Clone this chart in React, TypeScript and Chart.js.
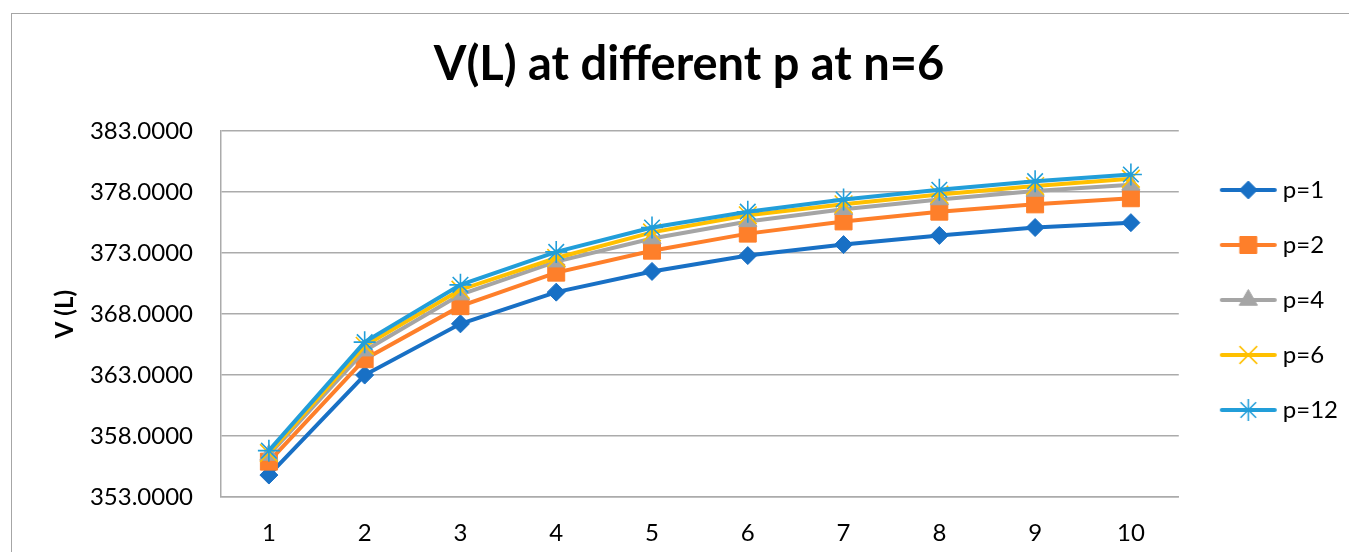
import React, { useEffect, useRef } from 'react';
import { Chart, registerables } from 'chart.js';
import { drawPoint } from 'chart.js/helpers';

Chart.register(...registerables);

// ---- data ----
const categories = ['1', '2', '3', '4', '5', '6', '7', '8', '9', '10'];
const seriesLabels = ['p=1', 'p=2', 'p=4', 'p=6', 'p=12'];
const p1 = [354.8, 363.0, 367.2, 369.8, 371.5, 372.8, 373.7, 374.45, 375.1, 375.5];
const p2 = [355.9, 364.3, 368.65, 371.4, 373.2, 374.6, 375.6, 376.4, 377.0, 377.5];
const p4 = [356.45, 365.0, 369.6, 372.3, 374.2, 375.6, 376.6, 377.4, 378.1, 378.6];
const p6 = [356.6, 365.4, 370.0, 372.6, 374.7, 376.1, 377.0, 377.8, 378.5, 379.1];
const p12 = [356.8, 365.7, 370.4, 373.1, 375.1, 376.4, 377.4, 378.2, 378.9, 379.45];
const yTicks = [353, 358, 363, 368, 373, 378, 383];
const titleText = 'V(L) at different p at n=6';
const yTitle = 'V (L)';

// ---- styles ----
const colors = ['#1870c5', '#fe7f2a', '#a5a5a5', '#ffc000', '#229ed9'];
const markers: any[] = [
  { style: 'rectRot', radius: 9, bw: 1 },
  { style: 'rect', radius: 12, bw: 1 },
  { style: 'triangle', radius: 10.5, bw: 1 },
  { style: 'crossRot', radius: 12.5, bw: 1.6 },
  { style: 'star', radius: 11, bw: 1.6 },
];
const GRID = '#ababab';
const FONT = 'Lato';

function legendImage(color: string, m: any) {
  const c = document.createElement('canvas');
  c.width = 81;
  c.height = 28;
  const ctx = c.getContext('2d')!;
  ctx.strokeStyle = color;
  ctx.lineWidth = 4;
  ctx.lineCap = 'round';
  ctx.beginPath();
  ctx.moveTo(22, 14);
  ctx.lineTo(75, 14);
  ctx.stroke();
  ctx.fillStyle = color;
  ctx.strokeStyle = color;
  ctx.lineWidth = m.bw;
  ctx.lineCap = 'butt';
  drawPoint(ctx, { pointStyle: m.style, radius: m.radius, rotation: 0, borderWidth: m.bw } as any, 48.5, 14);
  return c;
}

export default function App() {
  const ref = useRef<HTMLCanvasElement>(null);

  useEffect(() => {
    const canvas = ref.current!;
    const mctx = document.createElement('canvas').getContext('2d')!;
    mctx.font = `24px ${FONT}`;
    const tw = Math.max(...seriesLabels.map((t) => mctx.measureText(t).width));
    const W = Math.round(1281 + tw);
    const H = 538;
    const L = 1354 - W;
    canvas.width = W;
    canvas.height = H;
    canvas.style.width = W + 'px';
    canvas.style.height = H + 'px';

    const seriesData = [p1, p2, p4, p6, p12];
    const images = colors.map((c, i) => legendImage(c, markers[i]));

    const chart = new Chart(canvas, {
      type: 'line',
      data: {
        labels: categories,
        datasets: seriesData.map((d, i) => ({
          label: seriesLabels[i],
          data: d,
          borderColor: colors[i],
          backgroundColor: colors[i],
          borderWidth: 4,
          pointStyle: markers[i].style,
          pointRadius: markers[i].radius,
          pointHoverRadius: markers[i].radius,
          pointBackgroundColor: colors[i],
          pointBorderColor: colors[i],
          pointBorderWidth: markers[i].bw,
          tension: 0,
          fill: false,
          clip: false as any,
          order: seriesData.length - 1 - i,
        })),
      },
      options: {
        animation: false,
        responsive: false,
        layout: { padding: { left: L, right: 0, top: 0, bottom: 0 } },
        plugins: {
          title: {
            display: true,
            text: titleText,
            color: '#000',
            font: { family: FONT, size: 47, weight: 'bold', lineHeight: 1.2 },
            padding: { top: 23, bottom: 37.8 },
          },
          legend: {
            position: 'right',
            align: 'center',
            title: { display: true, text: '', font: { size: 10, lineHeight: 1.2 }, padding: 11 },
            labels: {
              usePointStyle: true,
              pointStyleWidth: 61,
              padding: 31,
              color: '#000',
              font: { family: FONT, size: 24 },
              generateLabels: (ch: any) =>
                ch.data.datasets.map((ds: any, i: number) => ({
                  text: ds.label,
                  fillStyle: colors[i],
                  strokeStyle: colors[i],
                  fontColor: '#000',
                  lineWidth: 0,
                  hidden: false,
                  pointStyle: images[i],
                  datasetIndex: i,
                })),
            },
          },
          tooltip: { enabled: false },
        },
        scales: {
          x: {
            offset: true,
            grid: { display: false, drawTicks: false },
            border: { display: true, color: GRID, width: 1.5 },
            ticks: { color: '#000', font: { family: FONT, size: 24 }, padding: 22, maxRotation: 0 },
            afterFit: (s: any) => {
              s.height = 55;
            },
          },
          y: {
            min: yTicks[0],
            max: yTicks[yTicks.length - 1],
            afterBuildTicks: (s: any) => {
              s.ticks = yTicks.map((v) => ({ value: v }));
            },
            grid: { color: GRID, lineWidth: 1.5, drawTicks: false },
            border: { display: true, color: GRID, width: 1.5 },
            ticks: {
              color: '#000',
              font: { family: FONT, size: 24 },
              padding: 28,
              callback: (v: any) => Number(v).toFixed(4),
            },
            title: {
              display: true,
              text: yTitle,
              color: '#000',
              font: { family: FONT, size: 24, weight: 'bold', lineHeight: 1.2 },
              padding: { top: 53 - L - 14.4, bottom: 0 },
            },
            afterFit: (s: any) => {
              s.width = 209 - L;
            },
          },
        },
      } as any,
    });
    return () => chart.destroy();
  }, []);

  return (
    <div
      style={{
        marginLeft: 3,
        marginTop: 5,
        width: 1337,
        height: 538,
        borderTop: '1px solid #a6a6a6',
        borderLeft: '1px solid #a6a6a6',
        overflow: 'hidden',
      }}
    >
      <canvas ref={ref} style={{ display: 'block' }} />
    </div>
  );
}
